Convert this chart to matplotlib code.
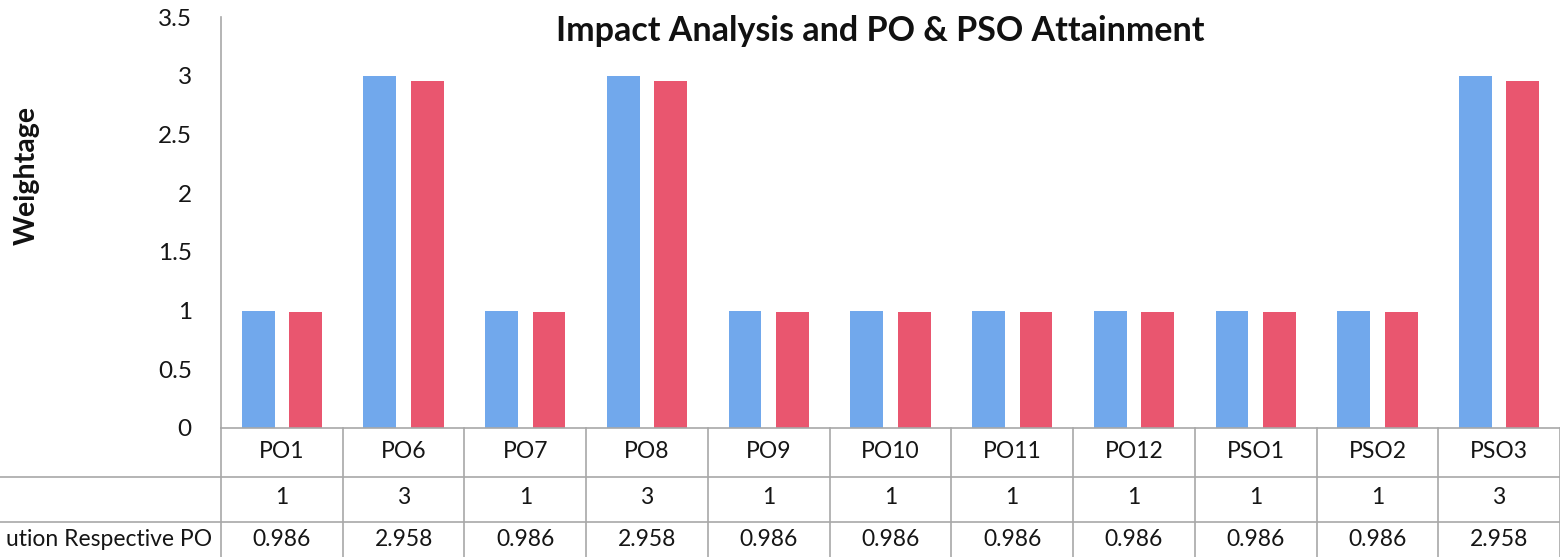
import matplotlib
matplotlib.use("Agg")
import matplotlib.pyplot as plt
from matplotlib.lines import Line2D
import matplotlib.transforms as mtransforms
import numpy as np

categories = ["PO1", "PO6", "PO7", "PO8", "PO9", "PO10", "PO11", "PO12", "PSO1", "PSO2", "PSO3"]
weightage = [1, 3, 1, 3, 1, 1, 1, 1, 1, 1, 3]
contribution = [0.986, 2.958, 0.986, 2.958, 0.986, 0.986, 0.986, 0.986, 0.986, 0.986, 2.958]
weightage_labels = ["1", "3", "1", "3", "1", "1", "1", "1", "1", "1", "3"]
contribution_labels = ["0.986", "2.958", "0.986", "2.958", "0.986", "0.986", "0.986", "0.986", "0.986", "0.986", "2.958"]
row3_label = "ution Respective PO"
title = "Impact Analysis and PO & PSO Attainment"
ylabel = "Weightage"
yticks = [0, 0.5, 1, 1.5, 2, 2.5, 3, 3.5]
ytick_labels = ["0", "0.5", "1", "1.5", "2", "2.5", "3", "3.5"]

plt.rcParams['font.family'] = ['Lato', 'DejaVu Sans']

W, H = 1560, 557
fig = plt.figure(figsize=(W / 100, H / 100), dpi=100)
fig.patch.set_facecolor("white")

ax_left, ax_right = 221, 1560
ax_top, ax_bot = 17, 428
ax = fig.add_axes([ax_left / W, 1 - ax_bot / H, (ax_right - ax_left) / W, (ax_bot - ax_top) / H])

blue = "#71a8ec"
red = "#e9566f"
grid_c = "#a8a8a8"
txt_c = "#151515"

x = np.arange(len(categories))
bw = 0.27
ax.bar(x - 0.195, weightage, bw, color=blue, zorder=2)
ax.bar(x + 0.195, contribution, bw, color=red, zorder=2)

ax.set_xlim(-0.5, len(categories) - 0.5)
ax.set_ylim(0, 3.5)
ax.set_yticks(yticks)
ax.set_yticklabels(ytick_labels, fontsize=17.5, color=txt_c)
ax.tick_params(axis="y", length=0, pad=21)
ax.set_xticks([])
for s in ["top", "right"]:
    ax.spines[s].set_visible(False)
ax.spines["left"].set_color(grid_c)
ax.spines["bottom"].set_color(grid_c)
ax.spines["left"].set_linewidth(1.2)
ax.spines["bottom"].set_linewidth(1.2)

fig.text(880 / W, 1 - 31 / H, title, fontsize=24.5, fontweight="bold", color="#111111",
         ha="center", va="center")
fig.text(27 / W, 1 - 176 / H, ylabel, rotation=90, fontsize=20.5, fontweight="bold",
         ha="center", va="center", color="#111111")

# data table below the axes
ax_h = ax_bot - ax_top
def ay(py):
    return (ax_bot - py) / ax_h

row_lines = [477, 522]
bottom_px = 557
trans_fx = mtransforms.blended_transform_factory(fig.transFigure, ax.transAxes)
for py in row_lines:
    ax.add_line(Line2D([0, 1], [ay(py), ay(py)], transform=trans_fx, color=grid_c,
                       lw=1.2, clip_on=False))
xt = ax.get_xaxis_transform()
for b in np.arange(len(categories) + 1) - 0.5:
    ax.add_line(Line2D([b, b], [0, ay(bottom_px)], transform=xt, color=grid_c,
                       lw=1.2, clip_on=False))

rows_y = [451, 498, 540]
for i in range(len(categories)):
    ax.text(x[i], ay(rows_y[0]), categories[i], transform=xt, ha="center", va="center",
            fontsize=16.5, color=txt_c, clip_on=False)
    ax.text(x[i], ay(rows_y[1]), weightage_labels[i], transform=xt, ha="center", va="center",
            fontsize=16.5, color=txt_c, clip_on=False)
    ax.text(x[i], ay(rows_y[2]), contribution_labels[i], transform=xt, ha="center", va="center",
            fontsize=16.5, color=txt_c, clip_on=False)

fig.text(212 / W, 1 - rows_y[2] / H, row3_label, ha="right", va="center", fontsize=16.5,
         color=txt_c)

fig.savefig("out.png", dpi=100, facecolor="white")
